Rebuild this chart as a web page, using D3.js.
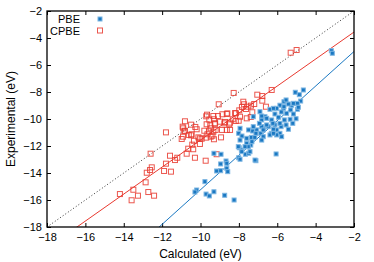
<!DOCTYPE html>
<html>
<head>
<meta charset="utf-8">
<script src="https://cdn.jsdelivr.net/npm/d3@7"></script>
<style>
  body { margin: 0; background: #fff; }
  svg { font-family: "Liberation Sans", Arial, sans-serif; }
</style>
</head>
<body>
<div id="chart"></div>
<script>
// CPBE: calculated vs experimental (eV)
const cpbeX = [-11.80, -10.84, -10.91, -10.98, -10.61, -12.60, -10.72, -11.59, -11.21, -11.33,
  -11.80, -12.54, -12.63, -12.80, -11.90, -11.54, -12.86, -12.72, -12.42, -13.26,
  -13.50, -13.59, -14.20, -9.05, -9.66, -9.09, -10.81, -10.27, -10.20, -9.49,
  -9.26, -9.56, -9.33, -10.49, -10.03, -9.70, -8.27, -7.04, -6.78, -6.29,
  -7.77, -7.73, -7.84, -7.54, -7.37, -7.20, -8.20, -7.98, -7.63, -7.30,
  -7.38, -8.86, -8.63, -9.33, -9.30, -9.70, -9.54, -8.32, -8.72, -8.98,
  -8.16, -8.50, -9.24, -9.68, -9.47, -9.21, -8.88, -8.63, -9.80, -9.64,
  -9.38, -9.30, -9.94, -7.94, -5.30, -4.99, -6.78, -6.59, -8.60, -8.15,
  -10.90, -10.11, -9.47, -8.93, -8.01, -7.59, -8.76, -10.93, -10.49, -10.81,
  -10.46, -10.34, -10.43, -10.38, -10.64, -10.29, -9.16, -9.73, -10.03, -8.46, -8.46];
const cpbeY = [-10.99, -10.91, -11.31, -11.48, -11.18, -12.57, -12.57, -12.72, -12.87, -13.04,
  -13.31, -13.58, -13.78, -13.98, -13.85, -13.90, -14.69, -15.41, -15.68, -15.68,
  -15.24, -16.02, -15.56, -8.91, -9.68, -9.78, -10.87, -10.59, -10.76, -10.47,
  -10.32, -10.91, -10.94, -11.21, -11.43, -11.38, -8.07, -8.20, -8.30, -7.85,
  -8.72, -8.91, -9.11, -9.09, -9.01, -8.89, -9.56, -9.36, -9.26, -9.50,
  -9.85, -9.65, -9.63, -9.78, -10.02, -9.80, -10.05, -10.02, -10.22, -10.20,
  -10.15, -10.39, -10.35, -10.39, -10.69, -10.81, -10.81, -10.81, -10.87, -11.13,
  -11.24, -11.50, -11.46, -9.83, -5.09, -4.89, -8.64, -9.09, -9.58, -9.58,
  -10.69, -11.36, -11.31, -11.36, -10.13, -9.95, -10.32, -10.57, -10.42, -10.17,
  -11.13, -11.61, -11.90, -12.24, -12.20, -12.87, -12.61, -13.09, -11.85, -10.27, -10.81];

// PBE: calculated vs experimental (eV)
const pbeX = [-7.94, -8.01, -7.84, -7.59, -7.35, -7.17, -7.49, -7.28, -7.07, -6.86,
  -6.73, -6.47, -6.31, -6.03, -5.86, -5.80, -7.59, -7.38, -7.51, -7.32,
  -7.98, -7.87, -7.66, -7.49, -7.42, -8.01, -7.94, -7.11, -6.06, -9.30,
  -8.93, -8.95, -9.16, -8.95, -8.67, -8.63, -8.63, -8.58, -9.77, -10.20,
  -10.29, -9.71, -9.54, -9.30, -8.74, -8.25, -3.18, -3.13, -5.06, -4.85,
  -4.64, -4.78, -4.95, -5.25, -5.65, -5.42, -5.86, -6.03, -5.68, -5.30,
  -4.95, -5.16, -5.51, -5.79, -6.12, -6.38, -6.64, -6.29, -5.94, -5.63,
  -5.33, -5.02, -5.19, -5.54, -5.86, -6.12, -6.55, -6.81, -6.20, -5.42,
  -6.38, -6.03, -5.77, -6.73, -6.81, -6.90, -6.81, -6.55, -6.93, -6.23,
  -7.25, -7.11, -7.94, -6.81, -8.03, -7.68, -7.85, -7.16, -5.54, -5.65,
  -6.20, -4.90, -5.16, -6.73, -6.20, -7.25];
const pbeY = [-10.69, -11.06, -11.26, -11.43, -11.36, -11.36, -10.81, -10.89, -10.81, -11.06,
  -10.69, -10.57, -11.06, -10.81, -11.06, -10.57, -11.80, -11.93, -12.05, -11.68,
  -12.13, -12.30, -12.61, -12.54, -12.42, -12.87, -12.98, -13.09, -12.59, -12.54,
  -12.61, -13.33, -13.85, -13.83, -13.11, -13.28, -13.65, -13.90, -14.64, -15.26,
  -15.41, -15.56, -15.70, -15.39, -15.65, -16.00, -4.94, -5.13, -8.02, -8.20,
  -7.85, -8.67, -8.84, -8.98, -8.72, -8.89, -8.98, -9.21, -9.21, -9.33,
  -9.28, -9.63, -9.58, -9.48, -9.63, -9.28, -9.83, -10.07, -9.87, -10.07,
  -10.02, -9.98, -10.32, -10.44, -10.32, -10.44, -10.44, -10.57, -10.76, -10.76,
  -11.18, -11.18, -11.31, -11.31, -10.07, -9.46, -9.78, -9.95, -10.32, -10.32,
  -10.57, -11.06, -11.56, -11.56, -12.05, -12.05, -12.42, -13.04, -8.59, -9.09,
  -9.21, -9.13, -8.84, -10.81, -11.06, -9.83];

// fitted lines: [slope, intercept]
const cpbeFit = [1.0, -1.56];
const pbeFit = [1.28, -2.44];

const xTicks = [-18, -16, -14, -12, -10, -8, -6, -4, -2];
const yTicks = [-18, -16, -14, -12, -10, -8, -6, -4, -2];

const blue = "#1a78c2";
const red = "#e8392f";

function init() {
  const margin = { top: 11, right: 20, bottom: 35, left: 47 };
  const W = 374, H = 262;
  const width = W - margin.left - margin.right;
  const height = H - margin.top - margin.bottom;

  const x = d3.scaleLinear().domain([-18, -2]).range([0, width]);
  const y = d3.scaleLinear().domain([-18, -2]).range([height, 0]);

  const svg = d3.select("#chart").append("svg")
      .attr("width", W)
      .attr("height", H);
  const chart = svg.append("g")
      .attr("transform", "translate(" + margin.left + "," + margin.top + ")");

  chart.append("defs").append("clipPath").attr("id", "clip")
      .append("rect").attr("width", width).attr("height", height);

  const axisStyle = g => {
    g.select(".domain").remove();
    g.selectAll("line").attr("stroke", "#000");
    g.selectAll("text").attr("fill", "#000").style("font-size", "11px");
  };

  chart.append("g")
      .attr("transform", "translate(0," + height + ")")
      .call(d3.axisBottom(x).tickValues(xTicks).tickSize(-4).tickSizeOuter(0).tickPadding(6))
      .call(axisStyle);
  chart.append("g")
      .call(d3.axisTop(x).tickValues(xTicks).tickSize(-4).tickSizeOuter(0).tickFormat(""))
      .call(axisStyle);
  chart.append("g")
      .call(d3.axisLeft(y).tickValues(yTicks).tickSize(-4).tickSizeOuter(0).tickPadding(5))
      .call(axisStyle);
  chart.append("g")
      .attr("transform", "translate(" + width + ",0)")
      .call(d3.axisRight(y).tickValues(yTicks).tickSize(-4).tickSizeOuter(0).tickFormat(""))
      .call(axisStyle);

  const plot = chart.append("g").attr("clip-path", "url(#clip)");

  // y = x reference
  plot.append("line")
      .attr("x1", x(-18)).attr("y1", y(-18))
      .attr("x2", x(-2)).attr("y2", y(-2))
      .attr("stroke", "#333")
      .attr("stroke-width", 1)
      .attr("stroke-dasharray", "1,2.2");

  const fitLine = (fit, color) => {
    const xs = [-18, -2];
    plot.append("line")
        .attr("x1", x(xs[0])).attr("y1", y(fit[0] * xs[0] + fit[1]))
        .attr("x2", x(xs[1])).attr("y2", y(fit[0] * xs[1] + fit[1]))
        .attr("stroke", color)
        .attr("stroke-width", 1);
  };
  fitLine(cpbeFit, red);
  fitLine(pbeFit, blue);

  const cpbe = cpbeX.map((v, i) => ({ x: v, y: cpbeY[i] }));
  const pbe = pbeX.map((v, i) => ({ x: v, y: pbeY[i] }));

  plot.selectAll(".cpbe")
      .data(cpbe)
      .enter().append("rect")
      .attr("class", "cpbe")
      .attr("x", d => x(d.x) - 2.5)
      .attr("y", d => y(d.y) - 2.5)
      .attr("width", 5).attr("height", 5)
      .attr("fill", "none")
      .attr("stroke", red)
      .attr("stroke-opacity", 0.85)
      .attr("stroke-width", 1);

  plot.selectAll(".pbe")
      .data(pbe)
      .enter().append("rect")
      .attr("class", "pbe")
      .attr("x", d => x(d.x) - 2)
      .attr("y", d => y(d.y) - 2)
      .attr("width", 4).attr("height", 4)
      .attr("fill", blue)
      .attr("stroke", "#7db6e2")
      .attr("stroke-width", 1);

  // frame
  chart.append("rect")
      .attr("width", width).attr("height", height)
      .attr("fill", "none")
      .attr("stroke", "#000")
      .attr("stroke-width", 1.3);

  // legend
  const legend = chart.append("g").style("font-size", "11px");
  [["PBE", 11.5], ["CPBE", 23.8]].forEach(([name, ly]) => {
    legend.append("text")
        .attr("x", 33).attr("y", ly)
        .attr("text-anchor", "end")
        .text(name);
  });
  legend.append("rect").attr("x", 51).attr("y", 6).attr("width", 4).attr("height", 4)
      .attr("fill", blue).attr("stroke", "#7db6e2");
  legend.append("rect").attr("x", 50.5).attr("y", 17).attr("width", 5).attr("height", 5)
      .attr("fill", "none").attr("stroke", red).attr("stroke-opacity", 0.85);

  // axis titles
  svg.append("text")
      .attr("x", margin.left + width / 2).attr("y", 258)
      .attr("text-anchor", "middle")
      .style("font-size", "12px")
      .text("Calculated (eV)");
  svg.append("text")
      .attr("transform", "translate(15," + (margin.top + height / 2) + ") rotate(-90)")
      .attr("text-anchor", "middle")
      .style("font-size", "12px")
      .text("Experimental (eV)");
}

window.onload = init;
</script>
</body>
</html>
